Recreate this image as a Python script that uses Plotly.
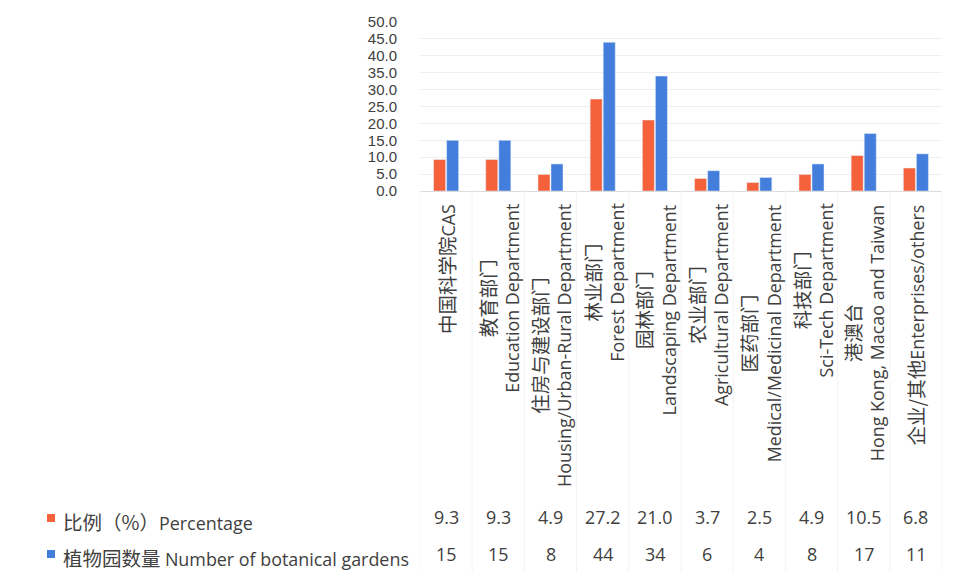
import plotly.graph_objects as go

# ---- data ----
categories_cn = ["中国科学院", "教育部门", "住房与建设部门", "林业部门", "园林部门",
                 "农业部门", "医药部门", "科技部门", "港澳台", "企业/其他"]
categories_en = ["CAS", "Education Department", "Housing/Urban-Rural Department",
                 "Forest Department", "Landscaping Department", "Agricultural Department",
                 "Medical/Medicinal Department", "Sci-Tech Department",
                 "Hong Kong, Macao and Taiwan", "Enterprises/others"]
# labels written on a single line (Chinese and English joined)
single_line = [True, False, False, False, False, False, False, False, False, True]

percentage = [9.3, 9.3, 4.9, 27.2, 21.0, 3.7, 2.5, 4.9, 10.5, 6.8]
gardens = [15, 15, 8, 44, 34, 6, 4, 8, 17, 11]

series_cn = ["比例（%）", "植物园数量 "]
series_en = ["Percentage", "Number of botanical gardens"]
y_ticks = [0, 5, 10, 15, 20, 25, 30, 35, 40, 45, 50]

# ---- styling ----
W, H = 955, 573
PLOT_L, PLOT_R, PLOT_T, PLOT_B = 420, 942, 22, 191
ORANGE = "#F5613A"
BLUE = "#437EDC"
TEXT = "#404040"
FONT = "Open Sans, Noto Sans CJK SC, sans-serif"
TICK_FONT = "Liberation Sans, Arial, sans-serif"
EN_SIZE = 17.9
CN = "font-size:19.5px;font-family:'Noto Sans CJK SC'"


def px_to_py(py):
    """pixel row -> paper y"""
    return (PLOT_B - py) / (PLOT_B - PLOT_T)


def px_to_px(px):
    """pixel column -> paper x"""
    return (px - PLOT_L) / (PLOT_R - PLOT_L)


def cn(s):
    return f"<span style=\"{CN}\">{s}</span>"


xs = list(range(len(categories_cn)))

fig = go.Figure()
fig.add_trace(go.Bar(x=xs, y=percentage, name=series_cn[0] + series_en[0],
                     marker_color=ORANGE, showlegend=False))
fig.add_trace(go.Bar(x=xs, y=gardens, name=series_cn[1] + series_en[1],
                     marker_color=BLUE, showlegend=False))

annotations = []
# rotated category labels
for i in xs:
    if single_line[i]:
        txt = cn(categories_cn[i]) + categories_en[i]
    else:
        txt = cn(categories_cn[i]) + "<br>" + categories_en[i]
    annotations.append(dict(
        x=i, xref="x", y=px_to_py(202), yref="paper",
        text=txt, textangle=-90, showarrow=False,
        xanchor="center", yanchor="top", align="center",
        font=dict(family=FONT, size=EN_SIZE, color=TEXT)))

# data table rows
row_y = [517, 554]
legend_y = [521, 557]
for r, vals in enumerate([[f"{v:.1f}" for v in percentage], [str(v) for v in gardens]]):
    for i, v in zip(xs, vals):
        annotations.append(dict(
            x=i, xref="x", y=px_to_py(row_y[r]), yref="paper", text=v,
            showarrow=False, xanchor="center", yanchor="middle",
            font=dict(family=FONT, size=EN_SIZE, color=TEXT)))

# legend keys of the data table
shapes = []
for r, col in enumerate([ORANGE, BLUE]):
    label = cn(series_cn[r]) + series_en[r]
    annotations.append(dict(
        x=px_to_px(61), xref="paper", y=px_to_py(legend_y[r]), yref="paper",
        text=label, showarrow=False, xanchor="left", yanchor="middle",
        font=dict(family=FONT, size=EN_SIZE, color=TEXT)))
    shapes.append(dict(
        type="rect", xref="paper", yref="paper",
        x0=px_to_px(47), x1=px_to_px(55),
        y0=px_to_py(legend_y[r] + 1), y1=px_to_py(legend_y[r] - 7),
        fillcolor=col, line=dict(width=0)))

# faint table borders between categories
for i in range(len(xs) + 1):
    shapes.append(dict(
        type="line", xref="x", yref="paper", x0=i - 0.5, x1=i - 0.5,
        y0=px_to_py(PLOT_B), y1=px_to_py(572),
        line=dict(color="#f3f3f3", width=1)))

fig.update_layout(
    width=W, height=H,
    margin=dict(l=PLOT_L, r=W - PLOT_R, t=PLOT_T, b=H - PLOT_B, pad=0),
    paper_bgcolor="white", plot_bgcolor="white",
    barmode="group", bargap=0.5, bargroupgap=0.08,
    font=dict(family=FONT, color=TEXT),
    xaxis=dict(range=[-0.5, len(xs) - 0.5], showticklabels=False, showgrid=False,
               zeroline=False, showline=False, ticks=""),
    yaxis=dict(range=[0, 50], tickvals=y_ticks, tickformat=".1f",
               tickfont=dict(family=TICK_FONT, size=15, color=TEXT),
               showgrid=True, gridcolor="#efefef", gridwidth=1,
               zeroline=True, zerolinecolor="#dcdcdc", zerolinewidth=1,
               showline=False, ticks="", ticklabelstandoff=22),
    annotations=annotations, shapes=shapes,
)

fig.write_html("out.html")
